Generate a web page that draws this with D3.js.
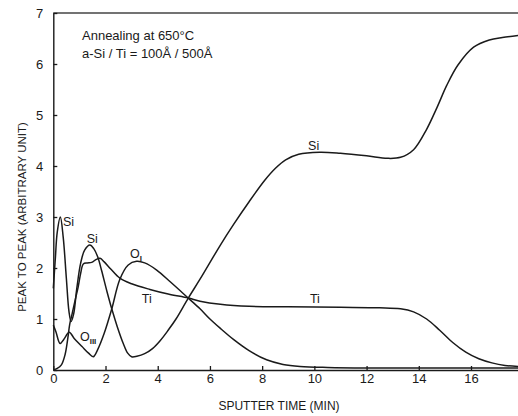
<!DOCTYPE html>
<html>
<head>
<meta charset="utf-8">
<script src="https://cdn.jsdelivr.net/npm/d3@7"></script>
<style>
  html, body { margin: 0; padding: 0; background: #fff; }
  svg { display: block; }
  text { font-family: "Liberation Sans", Arial, sans-serif; fill: #1a1a1a; }
</style>
</head>
<body>
<svg id="chart" width="518" height="416"></svg>
<script>
// ---- data ----
const xTicks = [0, 2, 4, 6, 8, 10, 12, 14, 16];
const yTicks = [0, 1, 2, 3, 4, 5, 6, 7];

const siTime = [0, 0.08, 0.15, 0.27, 0.38, 0.5, 0.6, 0.68, 0.78, 0.9, 1.05, 1.2, 1.4, 1.55, 1.7, 1.85, 2.05, 2.25, 2.45, 2.68, 2.85, 3.0, 3.2, 3.5, 3.8, 4.1, 4.4, 4.7, 5.17, 5.62, 6.4, 6.9, 7.5, 8.1, 8.5, 8.9, 9.4, 10.2, 11, 12, 12.8, 13.3, 13.8, 14.3, 14.7, 15.07, 15.5, 16.1, 16.7, 17.2, 17.8];
const siValue = [1.6, 2.2, 2.7, 3.0, 2.6, 1.8, 1.15, 0.95, 1.1, 1.6, 2.1, 2.35, 2.45, 2.38, 2.22, 1.95, 1.55, 1.18, 0.85, 0.52, 0.33, 0.26, 0.27, 0.32, 0.42, 0.58, 0.78, 1.0, 1.41, 1.78, 2.45, 2.85, 3.3, 3.72, 3.95, 4.12, 4.23, 4.27, 4.25, 4.2, 4.15, 4.17, 4.32, 4.72, 5.15, 5.58, 5.98, 6.33, 6.47, 6.52, 6.56];

const tiTime = [0, 0.15, 0.31, 0.45, 0.55, 0.63, 0.72, 0.85, 0.95, 1.05, 1.15, 1.3, 1.47, 1.65, 1.79, 1.95, 2.2, 2.55, 3.0, 3.7, 4.4, 5.17, 5.62, 6.4, 7.5, 9, 11, 12.5, 13.3, 13.8, 14.3, 14.8, 15.3, 15.8, 16.3, 16.8, 17.3, 17.8];
const tiValue = [0.0, 0.03, 0.1, 0.3, 0.6, 0.9, 1.1, 1.4, 1.62, 1.9, 2.08, 2.1, 2.11, 2.17, 2.19, 2.12, 1.98, 1.8, 1.69, 1.58, 1.49, 1.41, 1.35, 1.29, 1.25, 1.24, 1.23, 1.22, 1.2, 1.14, 1.0, 0.78, 0.54, 0.35, 0.22, 0.14, 0.09, 0.07];

const oTime = [0, 0.1, 0.26, 0.4, 0.61, 0.8, 1.1, 1.35, 1.53, 1.7, 1.95, 2.24, 2.55, 2.87, 3.19, 3.5, 3.96, 4.5, 5.17, 5.62, 6.0, 6.39, 6.9, 7.5, 8.17, 8.8, 9.45, 10.5, 12, 14, 16, 17.8];
const oValue = [0.88, 0.75, 0.52, 0.6, 0.74, 0.62, 0.46, 0.33, 0.26, 0.4, 0.72, 1.2, 1.78, 2.06, 2.13, 2.1, 1.96, 1.72, 1.41, 1.2, 1.0, 0.82, 0.6, 0.38, 0.2, 0.11, 0.07, 0.05, 0.04, 0.04, 0.04, 0.04];

// curve labels: [text, subscript, time, value]
const curveLabels = [
  ["Si", "", 0.37, 2.82],
  ["Si", "", 1.28, 2.49],
  ["O", "I", 2.94, 2.2],
  ["Ti", "", 3.39, 1.31],
  ["O", "III", 1.02, 0.57],
  ["Si", "", 9.76, 4.31],
  ["Ti", "", 9.83, 1.31]
];
const noteLines = ["Annealing at 650°C", "a-Si / Ti = 100Å / 500Å"];

// ---- drawing ----
const svg = d3.select("#chart");
const x = d3.scaleLinear().domain([0, 17.8]).range([53.3, 518]);
const y = d3.scaleLinear().domain([0, 7]).range([370, 13]);
const ink = "#1a1a1a";

// top frame line
svg.append("line")
  .attr("x1", x(0)).attr("x2", x(17.8))
  .attr("y1", y(7)).attr("y2", y(7))
  .attr("stroke", "#444").attr("stroke-width", 1.3);

const gx = svg.append("g").attr("transform", `translate(0,${y(0)})`)
  .call(d3.axisBottom(x).tickValues(xTicks).tickSizeInner(-4).tickSizeOuter(0).tickPadding(4).tickFormat(d3.format("d")));
const gy = svg.append("g").attr("transform", `translate(${x(0)},0)`)
  .call(d3.axisLeft(y).tickValues(yTicks).tickSizeInner(-4).tickSizeOuter(0).tickPadding(10).tickFormat(d3.format("d")));
[gx, gy].forEach(g => {
  g.select(".domain").attr("stroke", ink).attr("stroke-width", 1.4);
  g.selectAll(".tick line").attr("stroke", ink).attr("stroke-width", 1.3);
  g.selectAll(".tick text").attr("font-size", 13).attr("fill", ink)
    .attr("font-family", "'Liberation Sans', Arial, sans-serif");
});

// curves
const line = d3.line().x(d => x(d[0])).y(d => y(d[1])).curve(d3.curveCatmullRom.alpha(0.5));
const series = [
  d3.zip(siTime, siValue),
  d3.zip(tiTime, tiValue),
  d3.zip(oTime, oValue)
];
svg.append("g").selectAll("path").data(series).join("path")
  .attr("d", line)
  .attr("fill", "none")
  .attr("stroke", ink)
  .attr("stroke-width", 1.5)
  .attr("stroke-linejoin", "round");

// curve labels
const lab = svg.append("g").selectAll("text").data(curveLabels).join("text")
  .attr("x", d => x(d[2])).attr("y", d => y(d[3]))
  .attr("font-size", 12.5);
lab.append("tspan").text(d => d[0]);
lab.filter(d => d[1]).append("tspan")
  .attr("dy", 3).attr("font-size", 8).attr("font-weight", "bold")
  .text(d => d[1]);

// annotation
svg.append("g").selectAll("text").data(noteLines).join("text")
  .attr("x", 82).attr("y", (d, i) => 40 + i * 18)
  .attr("font-size", 13)
  .text(d => d);

// axis titles
svg.append("text")
  .attr("x", 279).attr("y", 410)
  .attr("text-anchor", "middle").attr("font-size", 12)
  .text("SPUTTER TIME (MIN)");
svg.append("text")
  .attr("transform", "translate(26,217) rotate(-90)")
  .attr("text-anchor", "middle").attr("font-size", 11.5)
  .text("PEAK TO PEAK (ARBITRARY UNIT)");
</script>
</body>
</html>
